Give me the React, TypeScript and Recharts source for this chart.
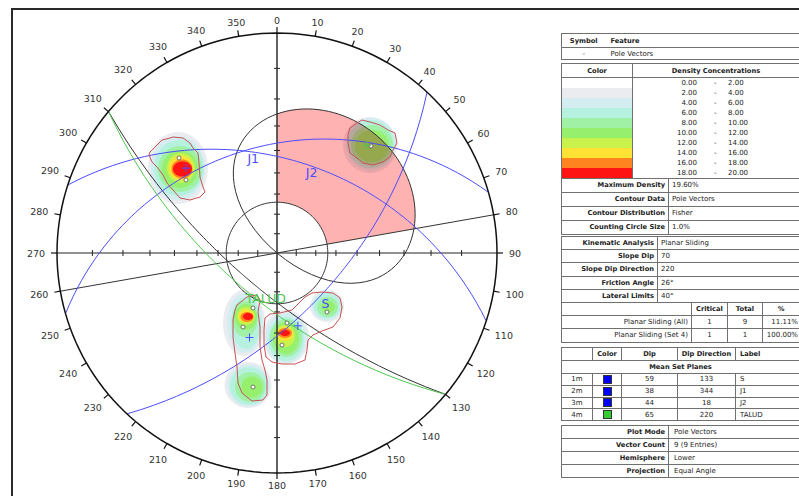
import React from "react";
import { ScatterChart, Scatter, XAxis, YAxis } from "recharts";

// net coordinates: east / north, primitive circle radius = 220
const R = 220;

// mean set planes
const SET_IDS = ["1m", "2m", "3m", "4m"];
const SET_LABELS = ["S", "J1", "J2", "TALUD"];
const SET_DIPS = [59, 38, 44, 65];
const SET_DIP_DIRS = [133, 344, 18, 220];
const SET_COLORS = ["#0000ff", "#0000ff", "#0000ff", "#33cc33"];
const SET_LINE_COLORS = ["#4b4bff", "#4b4bff", "#4b4bff", "#4cc84c"];

// planar sliding
const SLOPE_DIP = 70;
const SLOPE_DIP_DIR = 220;
const FRICTION_ANGLE = 26;
const LATERAL_LIMITS = 40;

// pole vectors (east, north)
const POLES = [
  [-98, 95], [-91, 73], [-24, -55], [-34, -74], [10, -70],
  [5, -92], [50, -59], [-24, -134], [94, 107],
];

const AZIMUTHS = [0, 10, 20, 30, 40, 50, 60, 70, 80, 90, 100, 110, 120, 130, 140, 150, 160, 170,
  180, 190, 200, 210, 220, 230, 240, 250, 260, 270, 280, 290, 300, 310, 320, 330, 340, 350];
const AXIS_TICK_PLUNGES = [80, 70, 60, 50, 40, 30, 20, 10];

const DENSITY_LOW = ["0.00", "2.00", "4.00", "6.00", "8.00", "10.00", "12.00", "14.00", "16.00", "18.00"];
const DENSITY_HIGH = ["2.00", "4.00", "6.00", "8.00", "10.00", "12.00", "14.00", "16.00", "18.00", "20.00"];
const DENSITY_COLORS = ["#ffffff", "#eaecf0", "#d3edf1", "#b6f1e0", "#a0f0a6", "#96f06e",
  "#c9f24c", "#ffe233", "#ff8420", "#ff1414"];
const ZONE_COLOR = "#ffb2b2";

// density contours: [level, east, north, radiusE, radiusN]
const CONTOURS = [
  // set S
  [1, -99, 85, 30, 36], [2, -99, 85, 27, 32], [3, -98, 85, 25, 28], [4, -97, 84, 22, 23],
  [5, -97, 84, 18, 19], [6, -96, 85, 14, 15], [7, -96, 85, 12, 12], [8, -95, 84, 10.5, 9.5],
  [9, -94.5, 84, 9.5, 7.5],
  // set J2
  [1, -33, -70, 21, 33], [2, -32, -70, 18, 30], [3, -31, -70, 15, 26], [4, -32, -66, 12.5, 18],
  [5, -31, -64, 11, 13], [6, -31, -63, 9, 9], [7, -31, -63, 7.5, 6.5], [8, -30, -64, 6.5, 5],
  [9, -29, -63.5, 5, 3.5],
  [1, -29, -132, 23.5, 23], [2, -28.5, -132.5, 21, 21], [3, -28, -133, 19, 19],
  [4, -27, -134, 15, 15], [5, -25, -134, 10.5, 10.5],
  // set J1
  [1, 9, -84, 23, 27], [2, 9, -85, 21, 25], [3, 9, -86, 18, 22], [4, 9, -85, 16, 19],
  [5, 9, -85, 13, 16], [6, 8, -83, 10, 11], [7, 8, -81, 8, 7], [8, 8, -80, 7, 5], [9, 8, -80, 5, 3],
  [1, 50, -53, 17, 16], [2, 50, -53, 15, 14.5], [3, 50, -53, 13.5, 12.5],
  [4, 50.5, -54, 10.5, 10], [5, 51, -54, 7, 6],
  // set TALUD
  [1, 93, 108, 27, 28], [2, 94, 109, 25, 26], [3, 94, 109, 23.5, 24], [4, 95, 108, 21, 20],
  [5, 95, 107, 17, 16],
];

// set windows (east, north)
const WINDOW_S = [[-127, 101], [-122, 106], [-115, 113], [-107, 115], [-104, 116], [-94, 115],
  [-87, 110], [-84, 105], [-79, 100], [-78, 90], [-77, 76], [-74, 66], [-72, 61], [-77, 56],
  [-87, 53], [-97, 55], [-104, 63], [-110, 70], [-114, 78], [-120, 86], [-125, 91], [-128, 98]];
const WINDOW_J2 = [[-40, -52], [-30, -44], [-20, -42], [-17, -47], [-19, -59], [-17, -74],
  [-17, -94], [-15, -107], [-12, -117], [-10, -127], [-10, -142], [-14, -147], [-25, -148],
  [-35, -140], [-39, -130], [-40, -114], [-42, -100], [-44, -84], [-44, -67], [-42, -57]];
const WINDOW_J1 = [[-12, -65], [-7, -61], [3, -60], [15, -57], [19, -53], [28, -44], [35, -40],
  [45, -39], [56, -40], [63, -45], [65, -54], [63, -65], [56, -74], [45, -78], [36, -82],
  [31, -87], [30, -97], [28, -107], [18, -111], [5, -111], [-5, -109], [-11, -104], [-13, -92],
  [-13, -77]];
const WINDOW_TALUD = [[73, 125], [80, 130], [85, 133], [93, 131], [103, 128], [111, 123],
  [118, 120], [120, 110], [116, 103], [113, 96], [106, 91], [96, 88], [86, 90], [80, 95],
  [73, 100], [71, 110], [71, 118]];

const rad = (d: number) => (d * Math.PI) / 180;
const deg = (r: number) => (r * 180) / Math.PI;

function proj(trend: number, plunge: number) {
  const r = R * Math.tan(rad(90 - plunge) / 2);
  return { x: r * Math.sin(rad(trend)), y: r * Math.cos(rad(trend)) };
}

function greatCircle(dipDir: number, dip: number) {
  const pts = [];
  for (let b = -90; b <= 90; b += 2) {
    const app = deg(Math.atan(Math.tan(rad(dip)) * Math.cos(rad(b))));
    pts.push(proj(dipDir + b, app));
  }
  return pts;
}

function envelopePoint(b: number) {
  const app = deg(Math.atan(Math.tan(rad(SLOPE_DIP)) * Math.cos(rad(b))));
  return proj(SLOPE_DIP_DIR + b + 180, 90 - app);
}

const frictionR = R * Math.tan(rad(FRICTION_ANGLE) / 2);
const circlePts = (r: number) =>
  Array.from({ length: 181 }, (_, i) => ({ x: r * Math.sin(rad(i * 2)), y: r * Math.cos(rad(i * 2)) }));

const envelopePts = Array.from({ length: 91 }, (_, i) => envelopePoint(-90 + i * 2));
const criticalZone = [
  ...Array.from({ length: 41 }, (_, i) => {
    const az = SLOPE_DIP_DIR + 180 - LATERAL_LIMITS + i * 2;
    return { x: frictionR * Math.sin(rad(az)), y: frictionR * Math.cos(rad(az)) };
  }),
  ...Array.from({ length: 41 }, (_, i) => envelopePoint(LATERAL_LIMITS - i * 2)),
];

const lateralLines = [-LATERAL_LIMITS, LATERAL_LIMITS].map((l) => [
  proj(SLOPE_DIP_DIR + l, 0),
  proj(SLOPE_DIP_DIR + l + 180, 0),
]);

const ellipse = (c: number[]) =>
  Array.from({ length: 48 }, (_, i) => ({
    x: c[1] + c[3] * Math.cos((i / 48) * Math.PI * 2),
    y: c[2] + c[4] * Math.sin((i / 48) * Math.PI * 2),
  }));

const toPts = (arr: number[][]) => arr.map(([x, y]) => ({ x, y }));

function multiply(a: string, b: string) {
  const ch = (h: string, i: number) => parseInt(h.slice(1 + i * 2, 3 + i * 2), 16);
  const out = [0, 1, 2].map((i) => Math.round((ch(a, i) * ch(b, i)) / 255).toString(16).padStart(2, "0"));
  return `#${out.join("")}`;
}

const axisTicks = [
  ...AXIS_TICK_PLUNGES.flatMap((p) => [0, 180].map((az) => ({ ...proj(az, p), dir: "h" }))),
  ...AXIS_TICK_PLUNGES.flatMap((p) => [90, 270].map((az) => ({ ...proj(az, p), dir: "v" }))),
];
const rimTicks = AZIMUTHS.map((az) => ({ ...proj(az, 0), az }));
const azLabels = AZIMUTHS.map((az) => {
  const t = rad(az);
  const text = String(az);
  const w = text.length * 6;
  const d = R + 9 + 0.5 * (Math.abs(Math.sin(t)) * (w + 6) + Math.abs(Math.cos(t)) * 7);
  return { x: d * Math.sin(t), y: d * Math.cos(t), text };
});

const setPoles = SET_DIPS.map((d, i) => ({ ...proj(SET_DIP_DIRS[i] + 180, 90 - d), c: SET_LINE_COLORS[i] }));
const setLabelPts = SET_DIPS.map((d, i) => ({ ...proj(SET_DIP_DIRS[i], d), text: SET_LABELS[i], c: SET_LINE_COLORS[i] }));

function pathD(points: { x: number; y: number }[], closed: boolean) {
  return (
    points.map((p, i) => `${i ? "L" : "M"}${p.x.toFixed(2)},${p.y.toFixed(2)}`).join("") + (closed ? "Z" : "")
  );
}
const stroke = (color: string, width = 1, closed = false) => (props: any) =>
  <path d={pathD(props.points, closed)} fill="none" stroke={color} strokeWidth={width} />;
const fill = (color: string, clip?: string) => (props: any) =>
  <path d={pathD(props.points, true)} fill={color} stroke="none" clipPath={clip ? `url(#${clip})` : undefined} />;
const zoneFill = (props: any) => {
  const d = pathD(props.points, true);
  return (
    <g>
      <defs>
        <clipPath id="critical-zone">
          <path d={d} />
        </clipPath>
      </defs>
      <path d={d} fill={ZONE_COLOR} stroke="none" />
    </g>
  );
};
const noDot = () => <g />;

function Stereonet() {
  return (
    <ScatterChart width={554} height={506} margin={{ top: 0, right: 0, bottom: 0, left: 0 }}>
      <XAxis type="number" dataKey="x" domain={[-277, 277]} hide allowDataOverflow />
      <YAxis type="number" dataKey="y" domain={[-253, 253]} hide allowDataOverflow />
      {CONTOURS.map((c, i) => (
        <Scatter key={`c${i}`} data={ellipse(c)} line={fill(DENSITY_COLORS[c[0]])} shape={noDot} isAnimationActive={false} />
      ))}
      <Scatter data={criticalZone} line={zoneFill} shape={noDot} isAnimationActive={false} />
      {/* contours seen through the critical zone */}
      {CONTOURS.map((c, i) => (
        <Scatter
          key={`cz${i}`}
          data={ellipse(c)}
          line={fill(multiply(DENSITY_COLORS[c[0]], ZONE_COLOR), "critical-zone")}
          shape={noDot}
          isAnimationActive={false}
        />
      ))}
      {/* axes */}
      <Scatter data={[proj(0, 0), proj(180, 0)]} line={stroke("#222")} shape={noDot} isAnimationActive={false} />
      <Scatter data={[proj(90, 0), proj(270, 0)]} line={stroke("#222")} shape={noDot} isAnimationActive={false} />
      <Scatter
        data={axisTicks}
        shape={(p: any) =>
          p.payload.dir === "h" ? (
            <line x1={p.cx - 3} x2={p.cx + 3} y1={p.cy} y2={p.cy} stroke="#222" />
          ) : (
            <line x1={p.cx} x2={p.cx} y1={p.cy - 3} y2={p.cy + 3} stroke="#222" />
          )
        }
        isAnimationActive={false}
      />
      {/* kinematic overlays */}
      {lateralLines.map((l, i) => (
        <Scatter key={`l${i}`} data={l} line={stroke("#333")} shape={noDot} isAnimationActive={false} />
      ))}
      <Scatter data={circlePts(frictionR)} line={stroke("#333", 1, true)} shape={noDot} isAnimationActive={false} />
      <Scatter data={envelopePts} line={stroke("#333", 1, true)} shape={noDot} isAnimationActive={false} />
      <Scatter data={greatCircle(SLOPE_DIP_DIR, SLOPE_DIP)} line={stroke("#333")} shape={noDot} isAnimationActive={false} />
      {SET_DIPS.map((d, i) => (
        <Scatter key={`g${i}`} data={greatCircle(SET_DIP_DIRS[i], d)} line={stroke(SET_LINE_COLORS[i])} shape={noDot} isAnimationActive={false} />
      ))}
      {/* set windows */}
      {[WINDOW_S, WINDOW_J1, WINDOW_J2, WINDOW_TALUD].map((w, i) => (
        <Scatter key={`w${i}`} data={toPts(w)} line={stroke("#c85252", 1, true)} shape={noDot} isAnimationActive={false} />
      ))}
      {/* primitive */}
      <Scatter data={circlePts(R)} line={stroke("#111", 1.5, true)} shape={noDot} isAnimationActive={false} />
      <Scatter
        data={rimTicks}
        shape={(p: any) => {
          const t = rad(p.payload.az);
          return (
            <line x1={p.cx} y1={p.cy} x2={p.cx + 6 * Math.sin(t)} y2={p.cy - 6 * Math.cos(t)} stroke="#111" strokeWidth={1.2} />
          );
        }}
        isAnimationActive={false}
      />
      <Scatter
        data={azLabels}
        shape={(p: any) => (
          <text x={p.cx} y={p.cy} textAnchor="middle" dominantBaseline="central" fontSize={9.5} fontFamily="DejaVu Sans" fill="#333">
            {p.payload.text}
          </text>
        )}
        isAnimationActive={false}
      />
      {/* poles */}
      <Scatter
        data={toPts(POLES)}
        shape={(p: any) => <circle cx={p.cx} cy={p.cy} r={2} fill="#fff" stroke="#555" strokeWidth={0.8} />}
        isAnimationActive={false}
      />
      <Scatter
        data={setPoles}
        shape={(p: any) => (
          <path d={`M${p.cx - 4},${p.cy}H${p.cx + 4}M${p.cx},${p.cy - 4}V${p.cy + 4}`} stroke={p.payload.c} strokeWidth={1} />
        )}
        isAnimationActive={false}
      />
      <Scatter
        data={setLabelPts}
        shape={(p: any) => (
          <text x={p.cx} y={p.cy + 13} fontSize={12.5} fontFamily="DejaVu Sans" fill={p.payload.c}>
            {p.payload.text}
          </text>
        )}
        isAnimationActive={false}
      />
    </ScatterChart>
  );
}

const FONT = "DejaVu Sans";
const bd = "1px solid #707070";
const td = (extra: React.CSSProperties = {}): React.CSSProperties => ({
  border: bd,
  padding: "0 3px",
  fontSize: 7,
  lineHeight: "8px",
  whiteSpace: "nowrap",
  overflow: "hidden",
  color: "#222",
  ...extra,
});
const tableStyle = (top: number): React.CSSProperties => ({
  position: "absolute",
  left: 561,
  top,
  width: 238,
  borderCollapse: "collapse",
  tableLayout: "fixed",
  fontFamily: FONT,
  border: "1px solid #555",
});
const B = { fontWeight: "bold", fontSize: 6.7 } as React.CSSProperties;

function Legend() {
  return (
    <>
      <table style={tableStyle(33)}>
        <colgroup>
          <col style={{ width: 44 }} />
          <col style={{ width: 194 }} />
        </colgroup>
        <tbody>
          <tr style={{ height: 14 }}>
            <td style={td({ ...B, textAlign: "center", borderRight: "none" })}>Symbol</td>
            <td style={td({ ...B, borderLeft: "none", paddingLeft: 5 })}>Feature</td>
          </tr>
          <tr style={{ height: 12 }}>
            <td style={td({ textAlign: "center", borderRight: "none" })}>◦</td>
            <td style={td({ borderLeft: "none", paddingLeft: 5 })}>Pole Vectors</td>
          </tr>
        </tbody>
      </table>

      <table style={tableStyle(63)}>
        <colgroup>
          <col style={{ width: 71 }} />
          <col style={{ width: 36 }} />
          <col style={{ width: 131 }} />
        </colgroup>
        <tbody>
          <tr style={{ height: 14 }}>
            <td style={td({ ...B, textAlign: "center" })}>Color</td>
            <td colSpan={2} style={td({ ...B, textAlign: "center" })}>Density Concentrations</td>
          </tr>
          {DENSITY_COLORS.map((c, i) => (
            <tr key={c} style={{ height: 10.1 }}>
              <td style={td({ background: c, borderTop: "none", borderBottom: "none", padding: 0 })} />
              <td colSpan={2} style={td({ borderTop: "none", borderBottom: "none", padding: 0, position: "relative" })}>
                <span style={{ position: "absolute", right: 102, top: 1 }}>{DENSITY_LOW[i]}</span>
                <span style={{ position: "absolute", left: 81, top: 1 }}>-</span>
                <span style={{ position: "absolute", left: 95, top: 1 }}>{DENSITY_HIGH[i]}</span>
              </td>
            </tr>
          ))}
          {[
            ["Maximum Density", "19.60%"],
            ["Contour Data", "Pole Vectors"],
            ["Contour Distribution", "Fisher"],
            ["Counting Circle Size", "1.0%"],
          ].map(([k, v]) => (
            <tr key={k} style={{ height: 14 }}>
              <td colSpan={2} style={td({ ...B, textAlign: "right" })}>{k}</td>
              <td style={td()}>{v}</td>
            </tr>
          ))}
        </tbody>
      </table>

      <table style={tableStyle(236)}>
        <colgroup>
          <col style={{ width: 96 }} />
          <col style={{ width: 34 }} />
          <col style={{ width: 36 }} />
          <col style={{ width: 35 }} />
          <col style={{ width: 37 }} />
        </colgroup>
        <tbody>
          {[
            ["Kinematic Analysis", "Planar Sliding"],
            ["Slope Dip", String(SLOPE_DIP)],
            ["Slope Dip Direction", String(SLOPE_DIP_DIR)],
            ["Friction Angle", `${FRICTION_ANGLE}°`],
            ["Lateral Limits", `${LATERAL_LIMITS}°`],
          ].map(([k, v]) => (
            <tr key={k} style={{ height: 13.2 }}>
              <td style={td({ ...B, textAlign: "right" })}>{k}</td>
              <td colSpan={4} style={td()}>{v}</td>
            </tr>
          ))}
          <tr style={{ height: 13.2 }}>
            <td colSpan={2} style={td()} />
            <td style={td({ ...B, textAlign: "center" })}>Critical</td>
            <td style={td({ ...B, textAlign: "center" })}>Total</td>
            <td style={td({ ...B, textAlign: "center" })}>%</td>
          </tr>
          {[
            ["Planar Sliding (All)", "1", "9", "11.11%"],
            ["Planar Sliding (Set 4)", "1", "1", "100.00%"],
          ].map(([k, a, b, c]) => (
            <tr key={k} style={{ height: 13.2 }}>
              <td colSpan={2} style={td({ textAlign: "right" })}>{k}</td>
              <td style={td({ textAlign: "center" })}>{a}</td>
              <td style={td({ textAlign: "center" })}>{b}</td>
              <td style={td({ textAlign: "right", paddingRight: 1 })}>{c}</td>
            </tr>
          ))}
        </tbody>
      </table>

      <table style={tableStyle(347)}>
        <colgroup>
          <col style={{ width: 31 }} />
          <col style={{ width: 29 }} />
          <col style={{ width: 56 }} />
          <col style={{ width: 58 }} />
          <col style={{ width: 64 }} />
        </colgroup>
        <tbody>
          <tr style={{ height: 12.5 }}>
            <td style={td()} />
            <td style={td({ ...B, textAlign: "center" })}>Color</td>
            <td style={td({ ...B, textAlign: "center" })}>Dip</td>
            <td style={td({ ...B, textAlign: "center" })}>Dip Direction</td>
            <td style={td({ ...B, paddingLeft: 4 })}>Label</td>
          </tr>
          <tr style={{ height: 13.5 }}>
            <td colSpan={5} style={td({ ...B, textAlign: "center" })}>Mean Set Planes</td>
          </tr>
          {SET_IDS.map((id, i) => (
            <tr key={id} style={{ height: 11.8 }}>
              <td style={td({ textAlign: "center" })}>{id}</td>
              <td style={td({ textAlign: "center", padding: 0 })}>
                <span style={{ display: "inline-block", width: 7, height: 7, background: SET_COLORS[i], border: "1px solid #333", verticalAlign: "middle" }} />
              </td>
              <td style={td({ textAlign: "center" })}>{SET_DIPS[i]}</td>
              <td style={td({ textAlign: "center" })}>{SET_DIP_DIRS[i]}</td>
              <td style={td({ paddingLeft: 4 })}>{SET_LABELS[i]}</td>
            </tr>
          ))}
        </tbody>
      </table>

      <table style={tableStyle(425)}>
        <colgroup>
          <col style={{ width: 107 }} />
          <col style={{ width: 131 }} />
        </colgroup>
        <tbody>
          {[
            ["Plot Mode", "Pole Vectors"],
            ["Vector Count", `${POLES.length} (${POLES.length} Entries)`],
            ["Hemisphere", "Lower"],
            ["Projection", "Equal Angle"],
          ].map(([k, v]) => (
            <tr key={k} style={{ height: 13 }}>
              <td style={td({ ...B, textAlign: "right" })}>{k}</td>
              <td style={td({ paddingLeft: 5 })}>{v}</td>
            </tr>
          ))}
        </tbody>
      </table>
    </>
  );
}

export default function App() {
  return (
    <div style={{ position: "fixed", left: 0, top: 0, width: 799, height: 496, background: "#fff", overflow: "hidden" }}>
      <div
        style={{
          position: "absolute",
          left: 11,
          top: 8,
          width: 820,
          height: 520,
          borderTop: "2px solid #2a2a2a",
          borderLeft: "2px solid #2a2a2a",
        }}
      />
      <div style={{ position: "absolute", left: 0, top: 0 }}>
        <Stereonet />
      </div>
      <Legend />
    </div>
  );
}
